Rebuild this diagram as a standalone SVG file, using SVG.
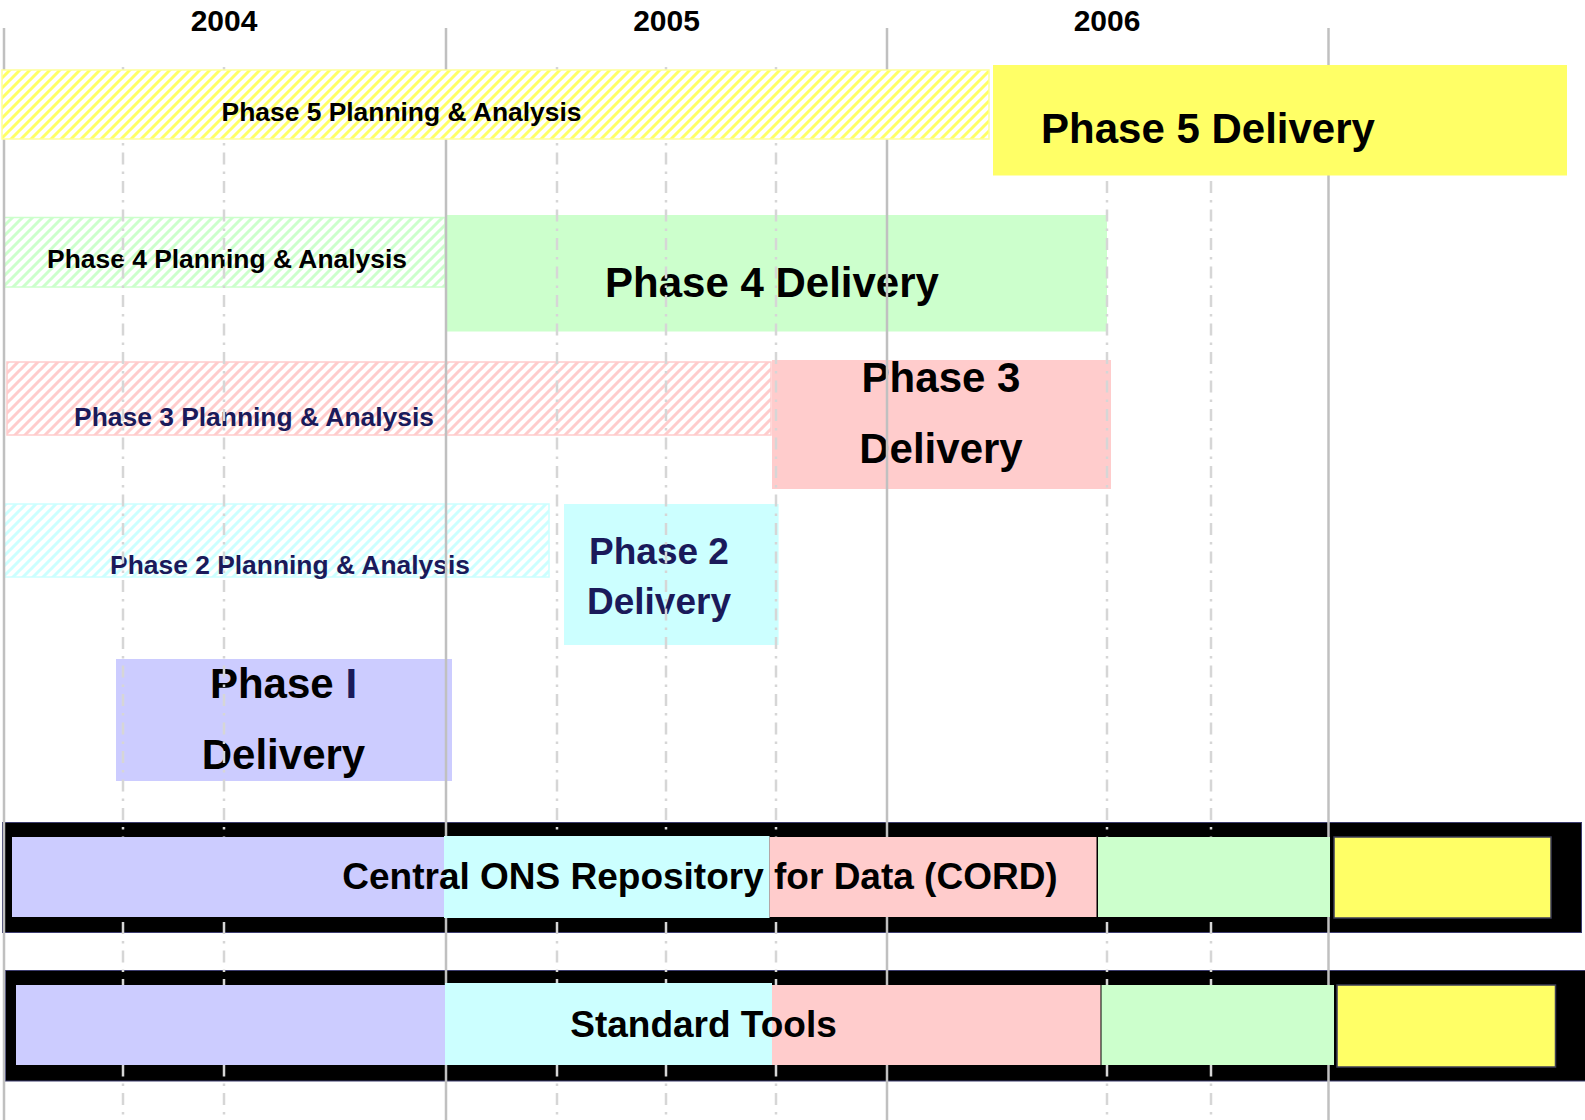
<svg xmlns="http://www.w3.org/2000/svg" width="1585" height="1120" viewBox="0 0 1585 1120">
<style>
text{font-family:"Liberation Sans",Arial,sans-serif;font-weight:bold}
.yr{font-size:30px;fill:#000;text-anchor:middle}
.pa{font-size:26.4px;text-anchor:middle}
.big{font-size:42px;text-anchor:middle}
.mid{font-size:37px;text-anchor:middle}
.blk{fill:#000}
.nvy{fill:#1a1a5a}
.solid{stroke:#c0c0c0;stroke-width:2.5}
.dash{stroke:#d6d6d6;stroke-width:2.5;stroke-dasharray:12 7 2.5 7}
.band{fill:#000;stroke:#3c3c6e;stroke-width:1}
.lav{fill:#ccccff}.cyn{fill:#ccffff}.pnk{fill:#ffcccc}.grn{fill:#ccffcc}
.ylw{fill:#ffff66;stroke:#3c3c55;stroke-width:1.5}
</style>
<defs>
<pattern id="hY" width="10" height="10" patternUnits="userSpaceOnUse"><rect width="10" height="10" fill="#fff"/><path d="M-2.5,2.5 L2.5,-2.5 M0,10 L10,0 M7.5,12.5 L12.5,7.5" stroke="#ffff66" stroke-width="3"/></pattern>
<pattern id="hG" width="10" height="10" patternUnits="userSpaceOnUse"><rect width="10" height="10" fill="#fff"/><path d="M-2.5,2.5 L2.5,-2.5 M0,10 L10,0 M7.5,12.5 L12.5,7.5" stroke="#ccffcc" stroke-width="3"/></pattern>
<pattern id="hP" width="10" height="10" patternUnits="userSpaceOnUse"><rect width="10" height="10" fill="#fff"/><path d="M-2.5,2.5 L2.5,-2.5 M0,10 L10,0 M7.5,12.5 L12.5,7.5" stroke="#ffcccc" stroke-width="3"/></pattern>
<pattern id="hC" width="10" height="10" patternUnits="userSpaceOnUse"><rect width="10" height="10" fill="#fff"/><path d="M-2.5,2.5 L2.5,-2.5 M0,10 L10,0 M7.5,12.5 L12.5,7.5" stroke="#ccffff" stroke-width="3"/></pattern>
</defs>
<rect width="1585" height="1120" fill="#fff"/>

<g id="years">
<text class="yr" x="224" y="31">2004</text>
<text class="yr" x="666.5" y="31">2005</text>
<text class="yr" x="1107" y="31">2006</text>
</g>

<g id="cord-band"><rect class="band" x="2.5" y="822.5" width="1579" height="110"/></g>
<g id="tools-band"><rect class="band" x="5.5" y="970.5" width="1590" height="110.5"/></g>

<g id="phase4-planning">
<rect x="4" y="217.5" width="441" height="69.5" fill="url(#hG)" stroke="#ccffcc" stroke-width="1.5"/>
<text class="pa blk" x="227" y="268">Phase 4 Planning &amp; Analysis</text>
</g>
<g id="phase4-delivery">
<rect class="grn" x="447" y="215" width="660" height="116.5"/>
<text class="big blk" x="772" y="297">Phase 4 Delivery</text>
</g>
<g id="phase3-planning">
<rect x="7" y="362" width="764" height="73" fill="url(#hP)" stroke="#ffcccc" stroke-width="1.5"/>
<text class="pa nvy" x="254" y="426">Phase 3 Planning &amp; Analysis</text>
</g>
<g id="phase3-delivery">
<rect class="pnk" x="772" y="360" width="339" height="129"/>
<text class="big blk" x="941" y="392">Phase 3</text>
<text class="big blk" x="941" y="463">Delivery</text>
</g>
<g id="phase2-planning">
<rect x="4" y="504" width="545" height="73" fill="url(#hC)" stroke="#ccffff" stroke-width="1.5"/>
<text class="pa nvy" x="290" y="574">Phase 2 Planning &amp; Analysis</text>
</g>
<g id="phase2-delivery">
<rect class="cyn" x="564" y="504" width="214.6" height="141"/>
<text class="mid nvy" x="659" y="564">Phase 2</text>
<text class="mid nvy" x="659" y="614">Delivery</text>
</g>
<g id="phase1-delivery">
<rect class="lav" x="116" y="659" width="336" height="122"/>
<text class="big blk" x="283.5" y="698">Phase <tspan class="nvy">I</tspan></text>
<text class="big blk" x="283.5" y="769">Delivery</text>
</g>

<g id="grid">
<line class="solid" x1="4" y1="28" x2="4" y2="1120"/>
<line class="solid" x1="446" y1="28" x2="446" y2="1120"/>
<line class="solid" x1="887" y1="28" x2="887" y2="1120"/>
<line class="solid" x1="1328.5" y1="28" x2="1328.5" y2="1120"/>
<line class="dash" x1="123" y1="67" x2="123" y2="1115"/>
<line class="dash" x1="224" y1="67" x2="224" y2="1115"/>
<line class="dash" x1="557" y1="67" x2="557" y2="1115"/>
<line class="dash" x1="666" y1="67" x2="666" y2="1115"/>
<line class="dash" x1="776" y1="67" x2="776" y2="1115"/>
<line class="dash" x1="1107" y1="67" x2="1107" y2="1115"/>
<line class="dash" x1="1211" y1="67" x2="1211" y2="1115"/>
</g>

<g id="phase5-planning">
<rect x="2" y="70" width="987" height="69" fill="url(#hY)" stroke="#ffff99" stroke-width="1.5"/>
<text class="pa blk" x="401.5" y="121">Phase 5 Planning &amp; Analysis</text>
</g>
<g id="phase5-delivery">
<rect x="993" y="65" width="574" height="110.5" fill="#ffff66"/>
<text class="big blk" x="1208" y="143">Phase 5 Delivery</text>
</g>

<g id="cord">
<rect class="lav" x="12" y="837" width="433" height="80"/>
<rect class="cyn" x="444" y="836" width="325.5" height="82"/>
<rect class="pnk" x="769.5" y="837" width="327" height="80"/>
<rect class="grn" x="1098" y="837" width="232" height="80"/>
<rect class="ylw" x="1334" y="837" width="217" height="81"/>
<text class="mid blk" x="700" y="889">Central ONS Repository for Data (CORD)</text>
</g>
<g id="standard-tools">
<rect class="lav" x="16" y="985" width="429" height="80"/>
<rect class="cyn" x="445" y="983" width="327" height="82"/>
<rect class="pnk" x="772" y="985" width="328.5" height="80"/>
<rect class="grn" x="1101.5" y="985" width="232.5" height="80"/>
<rect class="ylw" x="1337" y="985" width="218.5" height="82"/>
<text class="mid blk" x="703.5" y="1037">Standard Tools</text>
</g>
</svg>
